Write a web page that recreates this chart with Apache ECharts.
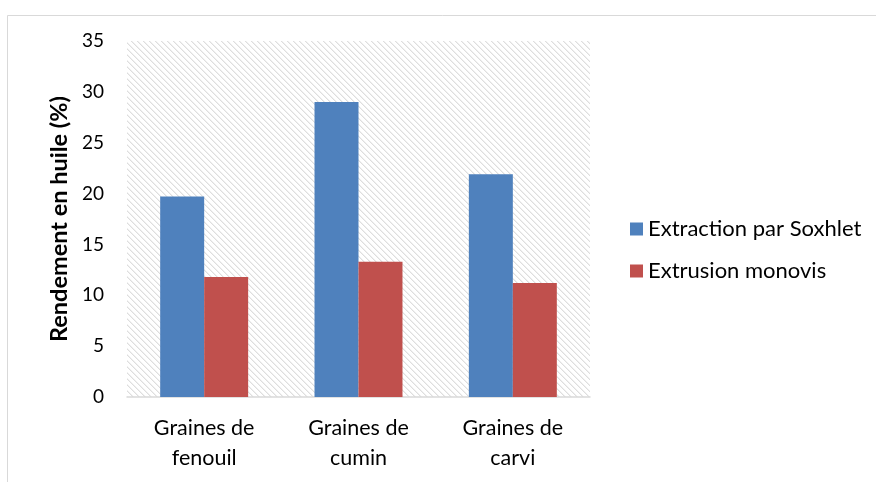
<!DOCTYPE html>
<html>
<head>
<meta charset="utf-8">
<script src="https://cdn.jsdelivr.net/npm/echarts@6/dist/echarts.min.js"></script>
<style>
html,body{margin:0;padding:0;background:#fff;}
#chart{width:876px;height:482px;}
</style>
</head>
<body>
<div id="chart"></div>
<script>
const categories = ['Graines de\nfenouil', 'Graines de\ncumin', 'Graines de\ncarvi'];
const soxhlet = [19.7, 29.0, 21.9];
const extrusion = [11.8, 13.3, 11.2];
const seriesNames = ['Extraction par Soxhlet', 'Extrusion monovis'];
const yTicks = [0, 35, 5];

// hatch pattern tile
const tile = document.createElement('canvas');
tile.width = 6; tile.height = 6;
const tctx = tile.getContext('2d');
const img = tctx.createImageData(6, 6);
for (let y = 0; y < 6; y++) {
  for (let x = 0; x < 6; x++) {
    const d = ((x - y) % 6 + 6) % 6;
    let v = 255;
    if (d === 0) v = 222;
    else if (d === 1) v = 240;
    const i = (y * 6 + x) * 4;
    img.data[i] = v; img.data[i+1] = v; img.data[i+2] = v; img.data[i+3] = 255;
  }
}
tctx.putImageData(img, 0, 0);

const font = 'Lato, "Open Sans", sans-serif';
const chart = echarts.init(document.getElementById('chart'));
chart.setOption({
  backgroundColor: '#fff',
  animation: false,
  graphic: [{
    type: 'rect', left: 5, top: 13, shape: {width: 900, height: 500},
    style: {fill: 'none', stroke: '#d9d9d9', lineWidth: 1}, z: -1
  }],
  grid: {
    left: 127, right: 286, top: 41, bottom: 85,
    show: true, borderWidth: 0,
    backgroundColor: {image: tile, repeat: 'repeat'}
  },
  legend: {
    orient: 'vertical', left: 630, top: 218, itemGap: 20, padding: 0,
    itemWidth: 13, itemHeight: 13, icon: 'rect',
    textStyle: {fontFamily: font, fontSize: 22, lineHeight: 22, color: '#000'},
    data: seriesNames
  },
  xAxis: {
    type: 'category', data: categories,
    axisLine: {lineStyle: {color: '#d9d9d9', width: 1.5}},
    axisTick: {show: false},
    axisLabel: {fontFamily: font, fontSize: 21.5, color: '#000', margin: 16, lineHeight: 30}
  },
  yAxis: {
    type: 'value', min: yTicks[0], max: yTicks[1], interval: yTicks[2],
    name: 'Rendement en huile (%)', nameLocation: 'middle', nameGap: 56,
    nameTextStyle: {fontFamily: font, fontSize: 23.5, fontWeight: 'bold', color: '#000'},
    axisLine: {show: false}, axisTick: {show: false},
    splitLine: {show: false},
    axisLabel: {fontFamily: font, fontSize: 19, color: '#000', margin: 23}
  },
  series: [
    {name: seriesNames[0], type: 'bar', data: soxhlet, barGap: '0%', barCategoryGap: '43%',
     itemStyle: {color: '#4F81BD'}},
    {name: seriesNames[1], type: 'bar', data: extrusion, barGap: '0%', barCategoryGap: '43%',
     itemStyle: {color: '#C0504D'}}
  ]
});
</script>
</body>
</html>
